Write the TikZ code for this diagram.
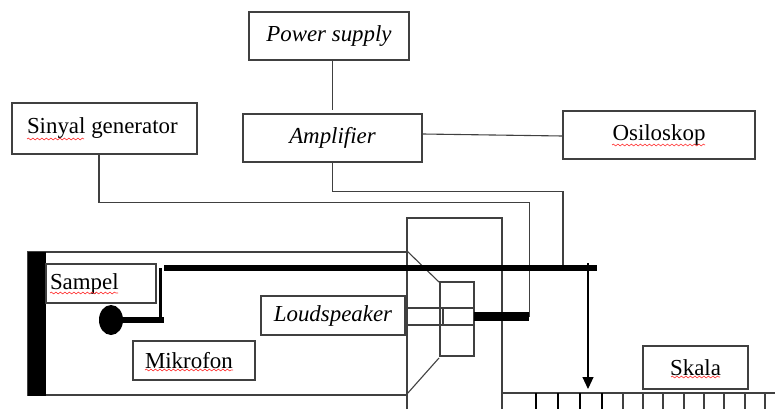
\documentclass[tikz,border=0pt]{standalone}
\usepackage{fontspec}
\setmainfont{Liberation Serif}
\usepackage{tikz}
\usetikzlibrary{arrows.meta,calc,decorations.pathmorphing}
\tikzset{
box/.style={draw=black!75,line width=1.1pt,fill=white,inner sep=0pt,font=\fontsize{22.9}{26}\selectfont},
wire/.style={draw=black!75,line width=1.1pt},
thickbar/.style={line width=6pt,black},
spell/.style={red!80,line width=.6pt,decorate,decoration={snake,amplitude=.9pt,segment length=4.5pt}}
}

\begin{document}
\begin{tikzpicture}[x=1pt,y=-1pt,>={Triangle[length=12pt,width=11pt]}]
\useasboundingbox (0,0) rectangle (775,409);

\draw[wire] (28,252) rectangle (407,395);
\fill[black] (28,252) rectangle (46,396);
\draw[wire] (407,409) |- (502,218) -- (502,409);

\draw[wire] (407,251) -- (439,282);
\draw[wire] (407,394) -- (439,358);
\draw[wire] (440,282) rectangle (474,356);
\draw[wire] (407,308) -- (474,308);
\draw[wire] (407,325) -- (474,325);
\draw[wire] (443,308) -- (443,325);

\node[box,minimum width=185,minimum height=51,text width=155,align=flush left] (sinyal) at (104.5,128.5) {Sinyal generator};
\node[box,minimum width=160,minimum height=48] (power) at (329,36) {\itshape Power supply};
\node[box,minimum width=179,minimum height=48] (amp) at (332.5,138) {\itshape Amplifier};
\node[box,minimum width=192,minimum height=48] (osc) at (659,135) {Osiloskop};
\node[box,minimum width=110,minimum height=39,text width=102,align=flush left] (sampel) at (101,283.5) {Sampel};
\node[box,minimum width=122,minimum height=39,text width=98,align=flush left] (mik) at (194,360.5) {Mikrofon};
\node[box,minimum width=144,minimum height=39] (loud) at (333,315.5) {\itshape Loudspeaker};
\node[box,minimum width=105,minimum height=43] (skala) at (695.5,367.5) {Skala};

\node[fill=black,minimum width=55,minimum height=9,inner sep=0pt] (coil) at (501.5,316.5) {};
\coordinate (ampin) at (563,268);
\coordinate (pointer) at (588,263);
\coordinate (pointertip) at (588,389);

\draw[wire] (power.south -| amp.south) -- ($(amp.north)+(0,-3)$);
\draw[wire] ($(amp.east)+(0,-4)$) -- ($(osc.west)+(0,1)$);
\draw[wire] ([xshift=-5.5pt]sinyal.south) -- ++(0,48) -| (coil.east);
\draw[wire] (amp.south) -- ++(0,29) -| (ampin);

\draw[thickbar] (164,268) -- (597,268);
\draw[line width=3pt] (160,268) -- (160,320);
\draw[thickbar] (122,320) -- (164,320);
\fill (111,320) ellipse (12 and 15);

\draw[line width=1.1pt,->] (pointer) -- (pointertip);

\draw[wire] (502,393) -- (775,393);
\foreach \x in {536,558,580,602} \draw[line width=2pt] (\x,393) -- (\x,409);
\foreach \x in {623,643,663,684,704,724,745,765} \draw[wire] (\x,393) -- (\x,409);

\draw[spell] (27,139) -- (84,139);
\draw[spell] (50,293) -- (118,293);
\draw[spell] (145,370) -- (233,370);
\draw[spell] (612,145) -- (705,145);
\draw[spell] (671,377) -- (720,377);
\end{tikzpicture}
\end{document}
